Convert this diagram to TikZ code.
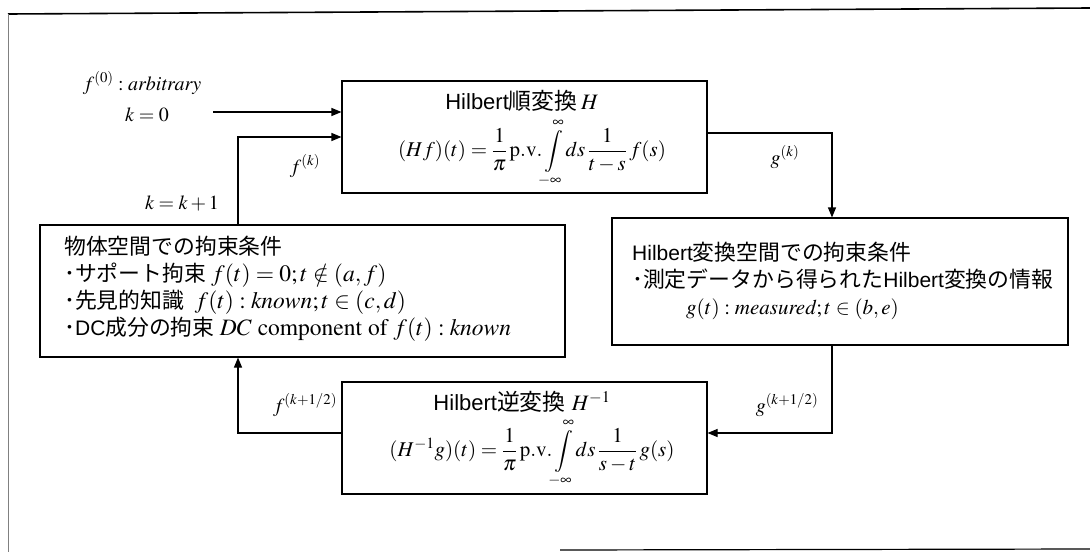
\documentclass[tikz,border=0pt]{standalone}
\usepackage{amsmath}
\usepackage{mathptmx}
\usepackage[no-math]{fontspec}
\setmainfont{Liberation Serif}
\newfontfamily\ja[Scale=1.04]{Noto Sans CJK JP}
\newfontfamily\hv{Liberation Sans}
\usetikzlibrary{arrows.meta}
\newcommand\J[1]{{\ja #1}}
\newcommand\BM[1]{{\fontsize{23.5}{27}\selectfont$#1$}}
\tikzset{
  box/.style={draw, line width=1.1pt, inner sep=0pt},
  txt/.style={font=\fontsize{20}{27}\selectfont, inner sep=0pt},
  btxt/.style={font=\fontsize{21}{27}\selectfont, inner sep=0pt},
  ttl/.style={font=\fontsize{22}{27}\selectfont, inner sep=0pt},
  arr/.style={line width=1.1pt, -{Triangle[length=10pt,width=8pt]}}
}
\begin{document}
\begin{tikzpicture}[x=1pt,y=-1pt]
\useasboundingbox (0,0) rectangle (1090,552);
% frame
\draw[line width=1.6pt] (8,14) -- (1090,8);
\draw[line width=1pt, gray] (8,14) -- (8,552);
\draw[line width=1.2pt] (560,550) -- (1090,549);
% boxes
\node[box, minimum width=365pt, minimum height=112pt] (H) at (524.5,137) {};
\node[box, minimum width=525pt, minimum height=132pt] (L) at (302.5,291) {};
\node[box, minimum width=456pt, minimum height=127pt] (R) at (840,281.5) {};
\node[box, minimum width=365pt, minimum height=112pt] (I) at (524.5,438) {};
% box texts
\node[ttl] (Ht1) at (522,101) {\hv Hilbert\J{順変換}\,$H$};
\node[btxt] (Ht2) at (532,153) {$(Hf)(t)=\dfrac{1}{\pi}\,\mathrm{p.v.}\!\displaystyle\int\limits_{-\infty}^{\infty}\!ds\,\dfrac{1}{t-s}\,f(s)$};
\node[ttl] (It1) at (522,402) {\hv Hilbert\J{逆変換}\ $H^{-1}$};
\node[btxt] (It2) at (532,453) {$(H^{-1}g)(t)=\dfrac{1}{\pi}\,\mathrm{p.v.}\!\displaystyle\int\limits_{-\infty}^{\infty}\!ds\,\dfrac{1}{s-t}\,g(s)$};
\node[btxt, align=left, anchor=west] (Lt) at (64,289) {\J{物体空間での拘束条件}\\
\J{･サポート拘束} \BM{f(t)=0;t\notin(a,f)}\\
\J{･先見的知識}\ \ \BM{f(t):\mathit{known};t\in(c,d)}\\
\J{･}{\hv DC}\J{成分の拘束} \BM{DC\ \mathrm{component\ of}\ f(t):\mathit{known}}};
\node[btxt, align=left, anchor=west] (Rt) at (632,281) {{\hv Hilbert}\J{変換空間での拘束条件}\\
\J{･測定データから得られた}{\hv Hilbert}\J{変換の情報}\\
\hspace{54pt}$g(t):\mathit{measured};t\in(b,e)$};
% labels
\node[txt] (f0) at (142,83) {$f^{(0)}:\mathit{arbitrary}$};
\node[txt] (k0) at (147,115) {$k=0$};
\node[txt] (kk) at (182,203) {$k=k+1$};
\node[txt] (fk) at (305,166) {$f^{(k)}$};
\node[txt] (gk) at (785,157) {$g^{(k)}$};
\node[txt] (gk2) at (787,405) {$g^{(k+1/2)}$};
\node[txt] (fk2) at (305,405) {$f^{(k+1/2)}$};
% connectors
\coordinate (k0s) at (213,112);
\coordinate (gx) at (832,0);
\coordinate (fx) at (238,0);
\draw[arr] (k0s) -- (k0s -| H.west);
\draw[arr] (L.north -| fx) |- (H.west);
\draw[arr] ([yshift=4pt]H.east) -| (R.north -| gx);
\draw[arr] (R.south -| gx) |- ([yshift=5pt]I.east);
\draw[arr] ([yshift=5pt]I.west) -| (L.south -| fx);
\end{tikzpicture}
\end{document}
